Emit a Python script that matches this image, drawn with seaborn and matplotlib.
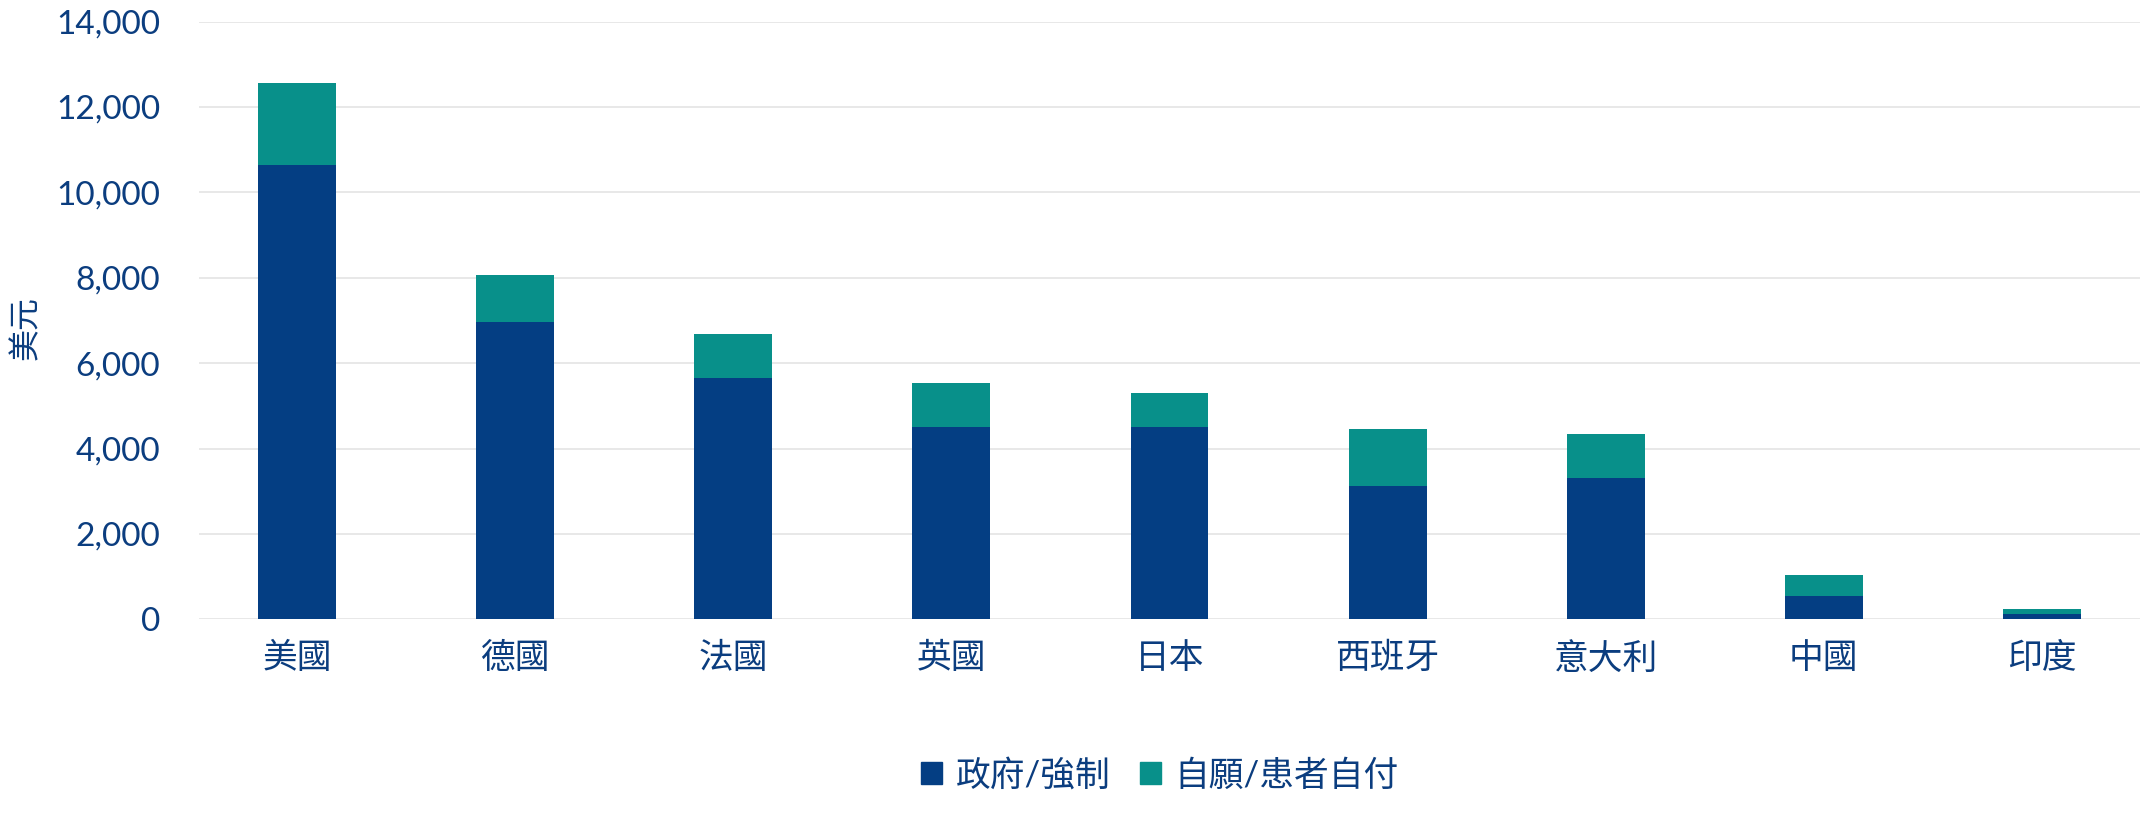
import matplotlib
matplotlib.use("Agg")
import matplotlib.pyplot as plt
import matplotlib.patches as mpatches
from matplotlib.ticker import FuncFormatter
import seaborn as sns
import pandas as pd

# ---- data ----
countries = ["美國", "德國", "法國", "英國", "日本", "西班牙", "意大利", "中國", "印度"]
gov_compulsory = [10630, 6975, 5647, 4506, 4506, 3124, 3304, 540, 119]
voluntary_oop = [1925, 1084, 1033, 1030, 789, 1331, 1030, 492, 124]
series_labels = ["政府/強制", "自願/患者自付"]
y_label = "美元"
y_ticks = [0, 2000, 4000, 6000, 8000, 10000, 12000, 14000]

# ---- style ----
sns.set_theme(style="white")
plt.rcParams["font.family"] = ["Lato", "Noto Sans CJK TC", "DejaVu Sans"]

C_GOV = "#043e83"
C_VOL = "#08908a"
C_TEXT = "#0b3d7f"
C_GRID = "#e6e6e6"

df = pd.DataFrame({
    "country": countries,
    "gov": gov_compulsory,
    "vol": voluntary_oop,
})
df["total"] = df["gov"] + df["vol"]

fig = plt.figure(figsize=(21.40, 8.21), dpi=100)
ax = fig.add_axes([199 / 2140, 1 - 619.4 / 821, 1941 / 2140, 597.8 / 821])

bw = 0.357
sns.barplot(data=df, x="country", y="total", order=countries, color=C_VOL,
            saturation=1, width=bw, ax=ax, zorder=2, linewidth=0, edgecolor="none")
sns.barplot(data=df, x="country", y="gov", order=countries, color=C_GOV,
            saturation=1, width=bw, ax=ax, zorder=3, linewidth=0, edgecolor="none")

ax.set_xlim(-0.45, 8.45)
ax.set_ylim(0, 14000)
ax.set_yticks(y_ticks)
ax.yaxis.set_major_formatter(FuncFormatter(lambda v, p: f"{int(v):,}"))
ax.grid(axis="y", color=C_GRID, linewidth=1.3, zorder=0)
ax.grid(axis="x", visible=False)
ax.set_axisbelow(True)
for s in ax.spines.values():
    s.set_visible(False)

ax.tick_params(axis="y", length=0, pad=28, labelsize=24, labelcolor=C_TEXT)
ax.tick_params(axis="x", length=0, pad=16, labelsize=25, labelcolor=C_TEXT)
ax.set_xlabel("")
ax.set_ylabel(y_label, fontsize=23, color=C_TEXT)
ax.yaxis.set_label_coords(-0.0814, 0.487)

handles = [mpatches.Patch(color=C_GOV, label=series_labels[0]),
           mpatches.Patch(color=C_VOL, label=series_labels[1])]
fig.legend(handles=handles, loc="center", bbox_to_anchor=(1160 / 2140, 1 - 775 / 821),
           ncol=2, frameon=False, fontsize=25, labelcolor=C_TEXT,
           handlelength=0.6, handleheight=0.6, handletextpad=0.4, columnspacing=0.85)

fig.savefig("out.png", dpi=100, facecolor="white")
